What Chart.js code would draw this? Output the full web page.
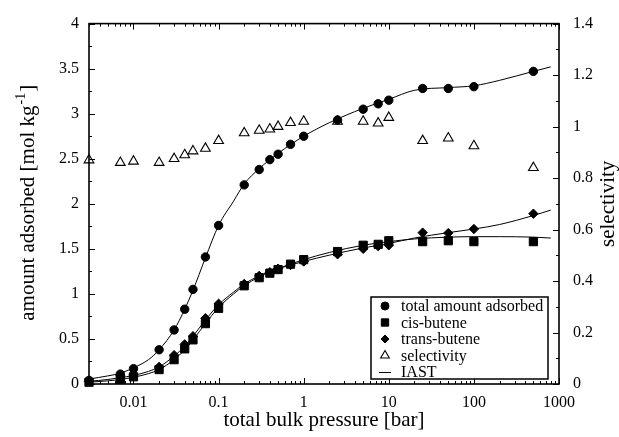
<!DOCTYPE html>
<html><head><meta charset="utf-8">
<script src="https://cdn.jsdelivr.net/npm/chart.js@4.4.0/dist/chart.umd.min.js"></script>
<style>html,body{margin:0;padding:0;background:#fff;}#wrap{width:619px;height:437px;}</style>
</head><body><div id="wrap"><canvas id="c" width="619" height="437"></canvas></div>
<script>
// ---- data ----
const pressure = [0.003, 0.007, 0.01, 0.02, 0.03, 0.04, 0.05, 0.07, 0.1, 0.2, 0.3, 0.4, 0.5, 0.7, 1, 2.5, 5, 7.5, 10, 25, 50, 100, 500];
const totalAdsorbed = [0.04, 0.11, 0.17, 0.38, 0.60, 0.83, 1.05, 1.41, 1.76, 2.21, 2.38, 2.49, 2.55, 2.66, 2.75, 2.93, 3.05, 3.11, 3.15, 3.28, 3.28, 3.30, 3.47];
const cisButene = [0.02, 0.05, 0.08, 0.16, 0.27, 0.39, 0.49, 0.67, 0.84, 1.09, 1.18, 1.23, 1.27, 1.33, 1.38, 1.47, 1.54, 1.55, 1.59, 1.58, 1.59, 1.58, 1.58];
const transButene = [0.03, 0.09, 0.10, 0.19, 0.32, 0.44, 0.53, 0.73, 0.89, 1.11, 1.20, 1.24, 1.28, 1.32, 1.36, 1.44, 1.50, 1.53, 1.54, 1.68, 1.675, 1.72, 1.89];
const selectivity = [0.87, 0.86, 0.865, 0.86, 0.875, 0.89, 0.905, 0.915, 0.945, 0.975, 0.985, 0.99, 1.0, 1.015, 1.02, 1.02, 1.02, 1.013, 1.035, 0.945, 0.955, 0.925, 0.84];

const iastPressure = [0.003, 0.005, 0.007, 0.01, 0.015, 0.02, 0.03, 0.04, 0.05, 0.07, 0.1, 0.15, 0.2, 0.3, 0.5, 1, 2, 5, 10, 20, 50, 100, 200, 500, 800];
const iastTotal = [0.055, 0.09, 0.12, 0.18, 0.27, 0.38, 0.60, 0.83, 1.04, 1.40, 1.76, 2.03, 2.22, 2.39, 2.56, 2.75, 2.90, 3.06, 3.16, 3.26, 3.29, 3.31, 3.37, 3.47, 3.52];
const iastCis = [0.02, 0.035, 0.05, 0.075, 0.115, 0.16, 0.27, 0.38, 0.49, 0.67, 0.85, 1.0, 1.09, 1.19, 1.28, 1.38, 1.46, 1.54, 1.58, 1.61, 1.63, 1.635, 1.635, 1.63, 1.62];
const iastTrans = [0.03, 0.05, 0.07, 0.095, 0.14, 0.19, 0.31, 0.42, 0.53, 0.71, 0.88, 1.02, 1.11, 1.20, 1.28, 1.36, 1.43, 1.51, 1.56, 1.62, 1.68, 1.72, 1.77, 1.87, 1.93];

const xTickLabels = [0.01, 0.1, 1, 10, 100, 1000];
const yTickLabels = [0, 0.5, 1, 1.5, 2, 2.5, 3, 3.5, 4];
const y1TickLabels = [0, 0.2, 0.4, 0.6, 0.8, 1, 1.2, 1.4];
const legendLabels = ['total amount adsorbed', 'cis-butene', 'trans-butene', 'selectivity', 'IAST'];

const FONT = '"Liberation Serif", "Times New Roman", serif';
const pts = (xs, ys) => xs.map((x, i) => ({x: x, y: ys[i]}));

const markerStyles = [
  {pointStyle: 'circle', radius: 4.2, fill: '#000', borderWidth: 1},
  {pointStyle: 'rect', radius: 5.8, fill: '#000', borderWidth: 1},
  {pointStyle: 'rectRot', radius: 4.7, fill: '#000', borderWidth: 1},
  {pointStyle: 'triangle', radius: 5.6, fill: '#fff', borderWidth: 1.1}
];

function markerDataset(label, data, st, axis) {
  return {
    label: label, data: data, yAxisID: axis, showLine: false, clip: false,
    pointStyle: st.pointStyle, pointRadius: st.radius, pointHoverRadius: st.radius,
    pointBackgroundColor: st.fill, pointBorderColor: '#000', pointBorderWidth: st.borderWidth,
    borderColor: '#000', backgroundColor: st.fill
  };
}
function lineDataset(data) {
  return {
    label: 'IAST', data: data, yAxisID: 'y', showLine: true, pointRadius: 0,
    borderColor: '#000', borderWidth: 1, cubicInterpolationMode: 'monotone', fill: false
  };
}

const decorations = {
  id: 'decorations',
  afterDraw(chart) {
    const ctx = chart.ctx, a = chart.chartArea, sx = chart.scales.x, sy = chart.scales.y, sy1 = chart.scales.y1;
    ctx.save();
    ctx.strokeStyle = '#000';
    ctx.lineWidth = 1;
    const seg = (x1, y1, x2, y2) => { ctx.beginPath(); ctx.moveTo(x1, y1); ctx.lineTo(x2, y2); ctx.stroke(); };
    for (let d = -3; d <= 3; d++) {
      for (let m = 1; m <= 9; m++) {
        const v = m * Math.pow(10, d);
        if (v < sx.min * 0.999 || v > sx.max * 1.001) continue;
        const px = Math.round(sx.getPixelForValue(v)) + 0.5;
        const L = m === 1 ? 6 : 3;
        seg(px, a.bottom, px, a.bottom - L);
        seg(px, a.top, px, a.top + L);
      }
    }
    for (let i = 0; i <= 16; i++) {
      const py = Math.round(sy.getPixelForValue(i * 0.25)) + 0.5;
      seg(a.left, py, a.left + (i % 2 === 0 ? 6 : 3), py);
    }
    for (let i = 0; i <= 14; i++) {
      const py = Math.round(sy1.getPixelForValue(i * 0.1)) + 0.5;
      seg(a.right, py, a.right - (i % 2 === 0 ? 6 : 3), py);
    }
    ctx.lineWidth = 1.6;
    ctx.strokeRect(a.left, a.top, a.right - a.left, a.bottom - a.top);

    // axis titles
    ctx.fillStyle = '#000';
    ctx.textBaseline = 'middle';
    ctx.font = '21px ' + FONT;
    ctx.textAlign = 'center';
    ctx.fillText('total bulk pressure [bar]', (a.left + a.right) / 2, 420);

    const t1 = 'amount adsorbed [mol kg', sup = '-1', t2 = ']';
    ctx.font = '21px ' + FONT; const w1 = ctx.measureText(t1).width, w2 = ctx.measureText(t2).width;
    ctx.font = '14px ' + FONT; const ws = ctx.measureText(sup).width;
    const tot = w1 + ws + w2;
    ctx.save();
    ctx.translate(28, (a.top + a.bottom) / 2);
    ctx.rotate(-Math.PI / 2);
    ctx.textAlign = 'left';
    ctx.font = '21px ' + FONT; ctx.fillText(t1, -tot / 2, 0);
    ctx.font = '14px ' + FONT; ctx.fillText(sup, -tot / 2 + w1 + 1, -7);
    ctx.font = '21px ' + FONT; ctx.fillText(t2, -tot / 2 + w1 + ws + 2, 0);
    ctx.restore();

    ctx.save();
    ctx.translate(608, (a.top + a.bottom) / 2);
    ctx.rotate(-Math.PI / 2);
    ctx.textAlign = 'center';
    ctx.font = '21px ' + FONT;
    ctx.fillText('selectivity', 0, 0);
    ctx.restore();

    // legend
    const bx = 371, by = 297, bw = 177, bh = 82;
    ctx.fillStyle = '#fff';
    ctx.fillRect(bx, by, bw, bh);
    ctx.lineWidth = 1.5;
    ctx.strokeStyle = '#000';
    ctx.strokeRect(bx, by, bw, bh);
    const rowY = [306, 322.5, 339, 355.5, 372];
    ctx.font = '16px ' + FONT;
    ctx.textAlign = 'left';
    ctx.textBaseline = 'middle';
    for (let i = 0; i < legendLabels.length; i++) {
      const y = rowY[i];
      if (i < 4) {
        const st = markerStyles[i];
        ctx.fillStyle = st.fill; ctx.strokeStyle = '#000'; ctx.lineWidth = st.borderWidth;
        Chart.helpers.drawPoint(ctx, {pointStyle: st.pointStyle, radius: i === 3 ? 5 : (i === 1 ? 5.2 : 4), rotation: 0, borderWidth: st.borderWidth}, 385, y);
      } else {
        ctx.lineWidth = 1; ctx.strokeStyle = '#000';
        seg(379, y + 0.5, 391, y + 0.5);
      }
      ctx.fillStyle = '#000';
      ctx.fillText(legendLabels[i], 401, y + 1);
    }
    ctx.restore();
  }
};

const tickFont = {family: FONT, size: 16};
new Chart(document.getElementById('c'), {
  type: 'scatter',
  data: {
    datasets: [
      markerDataset('total amount adsorbed', pts(pressure, totalAdsorbed), markerStyles[0], 'y'),
      markerDataset('cis-butene', pts(pressure, cisButene), markerStyles[1], 'y'),
      markerDataset('trans-butene', pts(pressure, transButene), markerStyles[2], 'y'),
      markerDataset('selectivity', pts(pressure, selectivity), markerStyles[3], 'y1'),
      lineDataset(pts(iastPressure, iastTotal)),
      lineDataset(pts(iastPressure, iastCis)),
      lineDataset(pts(iastPressure, iastTrans))
    ]
  },
  options: {
    responsive: false, animation: false, devicePixelRatio: 1,
    layout: {padding: {top: 20, left: 0, right: 0, bottom: 0}},
    plugins: {legend: {display: false}, tooltip: {enabled: false}, title: {display: false}},
    scales: {
      x: {
        type: 'logarithmic', position: 'bottom', min: 0.003, max: 1000,
        grid: {display: false, drawTicks: false, tickLength: 0}, border: {display: false},
        afterBuildTicks: s => { s.ticks = xTickLabels.map(v => ({value: v})); },
        afterFit: s => { s.height = 53; },
        ticks: {autoSkip: false, maxRotation: 0, padding: 9, color: '#000', font: tickFont,
          callback: v => String(v)}
      },
      y: {
        type: 'linear', position: 'left', min: 0, max: 4,
        grid: {display: false, drawTicks: false, tickLength: 0}, border: {display: false},
        afterBuildTicks: s => { s.ticks = yTickLabels.map(v => ({value: v})); },
        afterFit: s => { s.width = 89; },
        ticks: {autoSkip: false, padding: 10, color: '#000', font: tickFont,
          callback: v => String(Number(v.toFixed(2)))}
      },
      y1: {
        type: 'linear', position: 'right', min: 0, max: 1.4,
        grid: {display: false, drawTicks: false, tickLength: 0}, border: {display: false},
        afterBuildTicks: s => { s.ticks = y1TickLabels.map(v => ({value: v})); },
        afterFit: s => { s.width = 60; },
        ticks: {autoSkip: false, padding: 14, color: '#000', font: tickFont,
          callback: v => String(Number(v.toFixed(2)))}
      }
    }
  },
  plugins: [decorations]
});
</script>
</body></html>
